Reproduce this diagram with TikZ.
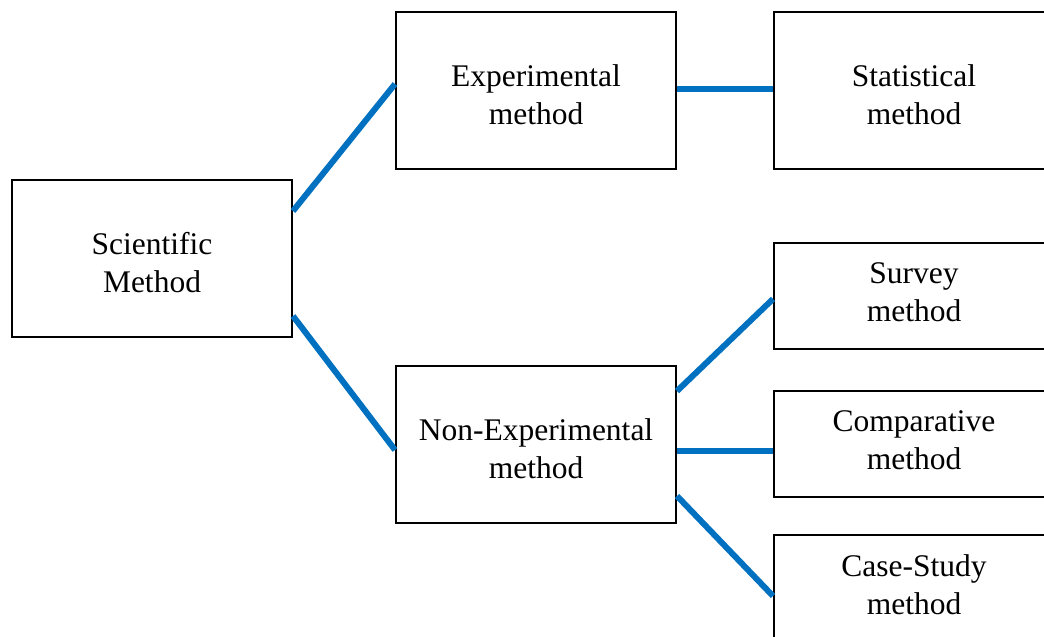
\documentclass[tikz,border=0pt]{standalone}
\usepackage{fontspec}
\setmainfont{Liberation Serif}
\begin{document}
\begin{tikzpicture}[x=1pt,y=-1pt,
  box/.style={draw=black,line width=2pt,fill=white,inner sep=0pt,minimum width=280pt},
  txt/.style={align=center,inner sep=0pt,font=\fontsize{31.5}{38}\selectfont},
  tallbox/.style={box,minimum height=157pt,label={[txt,yshift=-4.5pt]center:{#1}}},
  shortbox/.style={box,minimum height=106pt,label={[txt,yshift=3.5pt]center:{#1}}},
  link/.style={draw={rgb,255:red,0;green,112;blue,192},line width=6pt}]
\useasboundingbox (0,0) rectangle (1044,637);
\clip (0,0) rectangle (1044,637);
\node[tallbox={Scientific\\Method}] (sci) at (152,258.5) {};
\node[tallbox={Experimental\\method}] (exp) at (536,90.5) {};
\node[tallbox={Non-Experimental\\method}] (non) at (536,444.5) {};
\node[tallbox={Statistical\\method}] (stat) at (914,90.5) {};
\node[shortbox={Survey\\method}] (sur) at (914,296) {};
\node[shortbox={Comparative\\method}] (comp) at (914,444) {};
\node[shortbox={Case-Study\\method}] (case) at (914,588) {};
\draw[link] ([yshift=47.5pt]sci.east) -- ([yshift=6.5pt]exp.west);
\draw[link] ([yshift=-57.5pt]sci.east) -- ([yshift=-5.5pt]non.west);
\draw[link] ([yshift=1.5pt]exp.east) -- ([yshift=1.5pt]stat.west);
\draw[link] ([yshift=53.5pt]non.east) -- ([yshift=-3pt]sur.west);
\draw[link] ([yshift=-6.5pt]non.east) -- ([yshift=-7pt]comp.west);
\draw[link] ([yshift=-51.5pt]non.east) -- ([yshift=-8pt]case.west);
\end{tikzpicture}
\end{document}
